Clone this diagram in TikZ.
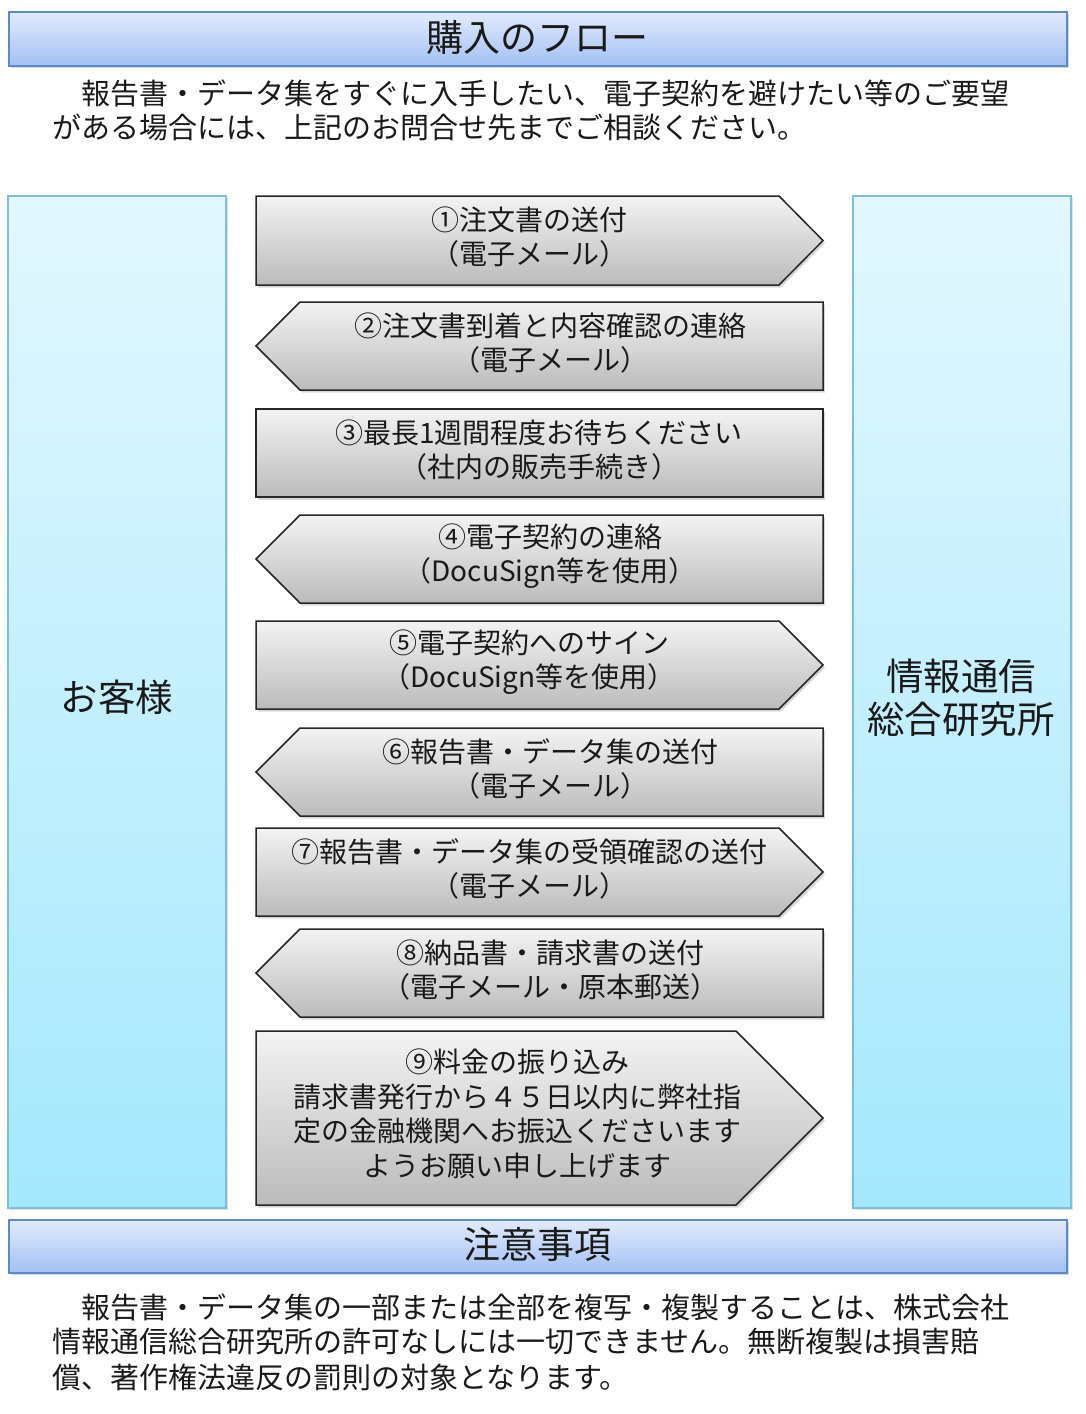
\documentclass[tikz,border=0pt]{standalone}
\usepackage{fontspec}
\setmainfont{Noto Sans CJK JP}
\usetikzlibrary{shadows}
\definecolor{hdtop}{HTML}{E2EBFC}
\definecolor{hdbot}{HTML}{A2C0F4}
\definecolor{hdline}{HTML}{5A8AC8}
\definecolor{sdtop}{HTML}{E2F7FE}
\definecolor{sdbot}{HTML}{A5E8FD}
\definecolor{sdline}{HTML}{7BBFD8}
\definecolor{artop}{HTML}{F3F3F3}
\definecolor{arbot}{HTML}{BBBBBB}
\definecolor{txt}{HTML}{1A1A1A}
\tikzset{
  headbox/.style={top color=hdtop, bottom color=hdbot, draw=hdline, line width=1.2pt,
    drop shadow={opacity=0.3, shadow xshift=1.5pt, shadow yshift=-2pt}},
  sidebox/.style={top color=sdtop, bottom color=sdbot, draw=sdline, line width=1.2pt,
    drop shadow={opacity=0.25, shadow xshift=1.5pt, shadow yshift=-2pt}},
  arrowbox/.style={top color=artop, bottom color=arbot, draw=black!85, line width=1.5pt,
    line join=miter, drop shadow={opacity=0.3, shadow xshift=2pt, shadow yshift=-2.5pt}},
  titletext/.style={font=\fontsize{37}{40}\selectfont, text=txt, inner sep=0pt},
  bodytext/.style={font=\fontsize{29}{35}\selectfont, text=txt, inner sep=0pt, anchor=west},
  arrowtext/.style={font=\fontsize{28}{34.5}\selectfont, text=txt, inner sep=0pt, align=center},
  sidetext/.style={font=\fontsize{37.5}{43}\selectfont, text=txt, inner sep=0pt, align=center},
}
\newcommand\rightarr[3]{% top, bottom, tip start
  \path[arrowbox] (256,#1) -- (#3,#1) -- (823,{(#1+#2)/2}) -- (#3,#2) -- (256,#2) -- cycle;}
\newcommand\leftarr[2]{% top, bottom
  \path[arrowbox] (256,{(#1+#2)/2}) -- ({256+(#2-#1)/2},#1) -- (823,#1) -- (823,#2) -- ({256+(#2-#1)/2},#2) -- cycle;}
\begin{document}
\begin{tikzpicture}[x=1pt,y=-1pt]
\useasboundingbox (0,0) rectangle (1085,1414);
\fill[white] (0,0) rectangle (1085,1414);
% header
\path[headbox] (9,12) rectangle (1067,66);
\node[titletext] (title) at (537,37) {購入のフロー};
\node[bodytext] (intro1) at (52,93) {　報告書・データ集をすぐに入手したい、電子契約を避けたい等のご要望};
\node[bodytext] (intro2) at (52,127) {がある場合には、上記のお問合せ先までご相談ください。};
% side boxes
\path[sidebox] (8,196) rectangle (226,1208);
\path[sidebox] (853,196) rectangle (1071,1208);
\node[sidetext] (cust) at (117,697) {お客様};
\node[sidetext] (icr) at (961,698) {情報通信\\総合研究所};
% arrows
\rightarr{196}{285}{779}
\node[arrowtext] (a1) at (529,237) {①注文書の送付\\（電子メール）};
\leftarr{302}{390}
\node[arrowtext] (a2) at (550,343) {②注文書到着と内容確認の連絡\\（電子メール）};
\path[arrowbox] (256,409) rectangle (823,497);
\node[arrowtext] (a3) at (539,450) {③最長1週間程度お待ちください\\（社内の販売手続き）};
\leftarr{515}{603}
\node[arrowtext] (a4) at (550,556) {④電子契約の連絡\\（DocuSign等を使用）};
\rightarr{621}{709}{779}
\node[arrowtext] (a5) at (529,662) {⑤電子契約へのサイン\\（DocuSign等を使用）};
\leftarr{728}{816}
\node[arrowtext] (a6) at (550,769) {⑥報告書・データ集の送付\\（電子メール）};
\rightarr{828}{916}{779}
\node[arrowtext] (a7) at (529,869) {⑦報告書・データ集の受領確認の送付\\（電子メール）};
\leftarr{929}{1017}
\node[arrowtext] (a8) at (550,970) {⑧納品書・請求書の送付\\（電子メール・原本郵送）};
\rightarr{1031}{1205}{736}
\node[arrowtext] (a9) at (517,1114) {⑨料金の振り込み\\請求書発行から４５日以内に弊社指\\定の金融機関へお振込くださいます\\ようお願い申し上げます};
% footer
\path[headbox] (9,1220) rectangle (1067,1273);
\node[titletext] (note) at (537,1244) {注意事項};
\node[bodytext] (f1) at (52,1307) {　報告書・データ集の一部または全部を複写・複製することは、株式会社};
\node[bodytext] (f2) at (52,1342) {情報通信総合研究所の許可なしには一切できません。無断複製は損害賠};
\node[bodytext] (f3) at (52,1377) {償、著作権法違反の罰則の対象となります。};
\end{tikzpicture}
\end{document}
